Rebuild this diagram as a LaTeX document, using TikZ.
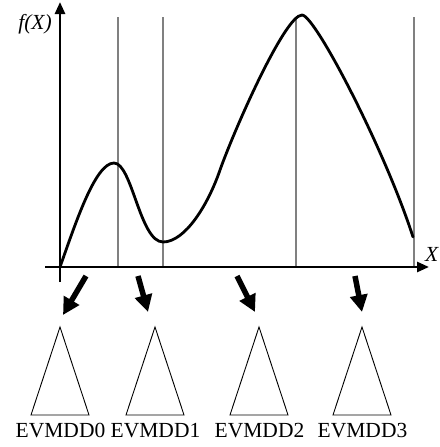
\documentclass[tikz,border=0pt]{standalone}
\usepackage{fontspec}
\setmainfont{Liberation Serif}
\usetikzlibrary{arrows.meta}

\begin{document}
\begin{tikzpicture}[
  x=1pt,y=-1pt,
  font=\fontsize{21.5}{24}\selectfont,
  axis/.style={line width=2.6pt,-{Triangle[length=12pt,width=10pt]}},
  guide/.style={draw=gray,line width=1.4pt},
  curve/.style={line width=2.8pt,line join=round,line cap=round},
  pointer/.style={line width=5.5pt,-{Triangle[length=17pt,width=17pt]}},
  tree/.style={draw,line width=0.9pt,line join=miter},
  ddlabel/.style={anchor=base,inner sep=0pt}
]
\useasboundingbox (0,0) rectangle (439,447);

% ===== Guides =====
\foreach \gx in {118,163,296,414}
  \draw[guide] (\gx,17) -- (\gx,267);

% ===== Curve =====
\draw[curve] (60,267) .. controls (75,225) and (95,163) .. (114,163)
  .. controls (132,163) and (140,242) .. (163,242)
  .. controls (185,242) and (208,205) .. (220,170)
  .. controls (235,128) and (285,15) .. (302,15)
  .. controls (315,15) and (385,150) .. (413,237);

% ===== Axes =====
\coordinate (ybot) at (60,282);
\coordinate (ytop) at (60,2);
\coordinate (xbeg) at (45,267);
\coordinate (xend) at (429,267);
\draw[axis] (ybot) -- (ytop);
\draw[axis] (xbeg) -- (xend);
\node (fx) at (35,24) {\textit{f(X)}};
\node (xl) at (432,254) {\textit{X}};

% ===== EVMDDs =====
\foreach \i/\cx in {0/60,1/155,2/259,3/362} {
  \coordinate (t\i) at (\cx,327);
  \draw[tree] (t\i) -- ++(-29,88) -- ++(58,0) -- cycle;
  \node[ddlabel] (l\i) at (\cx+0.5,437) {EVMDD\i};
}

% ===== Pointers =====
\coordinate (a0) at (86,276);  \coordinate (b0) at (63,315);
\coordinate (a1) at (138,276); \coordinate (b1) at (148,312);
\coordinate (a2) at (237,276); \coordinate (b2) at (255,312);
\coordinate (a3) at (355,276); \coordinate (b3) at (362,312);
\foreach \i in {0,...,3}
  \draw[pointer] (a\i) -- (b\i);

\end{tikzpicture}
\end{document}
